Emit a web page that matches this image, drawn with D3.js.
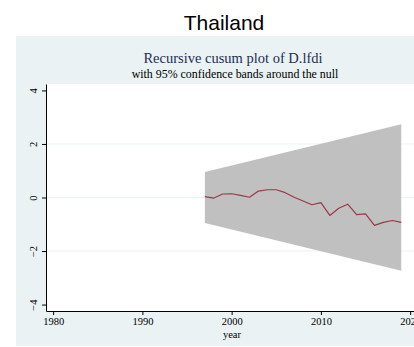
<!DOCTYPE html>
<html>
<head>
<meta charset="utf-8">
<script src="https://cdn.jsdelivr.net/npm/d3@7"></script>
<style>
  html, body { margin: 0; padding: 0; background: #ffffff; }
  svg { display: block; }
</style>
</head>
<body>
<svg id="chart" width="414" height="347"></svg>
<script>
// ---- data ----
const years = [1997, 1998, 1999, 2000, 2001, 2002, 2003, 2004, 2005, 2006, 2007, 2008,
               2009, 2010, 2011, 2012, 2013, 2014, 2015, 2016, 2017, 2018, 2019];
const cusum = [0.03, -0.02, 0.13, 0.14, 0.08, 0.01, 0.24, 0.29, 0.29, 0.18, 0.01, -0.13,
               -0.27, -0.19, -0.67, -0.40, -0.25, -0.64, -0.61, -1.04, -0.93, -0.86, -0.93];
const bandYears = [1997, 2019];
const bandUpper = [0.95, 2.74];
const bandLower = [-0.95, -2.74];
const xTicks = [1980, 1990, 2000, 2010, 2020];
const yTicks = [-4, -2, 0, 2, 4];
const gridTicks = [-2, 0, 2];

const pageTitle = "Thailand";
const chartTitle = "Recursive cusum plot of D.lfdi";
const chartSubtitle = "with 95% confidence bands around the null";
const xLabel = "year";

// ---- layout ----
const svg = d3.select("#chart");
const serif = "'Liberation Serif', 'Times New Roman', serif";

const plot = { left: 46, top: 84, bottom: 311, right: 424 };

const x = d3.scaleLinear().domain([1979.2, 2021.55]).range([plot.left, plot.right]);
const y = d3.scaleLinear().domain([-4.24, 4.24]).range([plot.bottom, plot.top]);

// outer graph region background
svg.append("rect")
  .attr("x", 16).attr("y", 36).attr("width", 420).attr("height", 310)
  .attr("fill", "#eaf2f3");

// plot region
svg.append("rect")
  .attr("x", plot.left).attr("y", plot.top)
  .attr("width", plot.right - plot.left).attr("height", plot.bottom - plot.top)
  .attr("fill", "#ffffff");

// gridlines
svg.append("g").selectAll("line").data(gridTicks).join("line")
  .attr("x1", plot.left).attr("x2", plot.right)
  .attr("y1", d => y(d)).attr("y2", d => y(d))
  .attr("stroke", "#eaf2f3").attr("stroke-width", 1);

// confidence band
const bandData = bandYears.map((yr, i) => ({ yr, lo: bandLower[i], hi: bandUpper[i] }));
svg.append("path")
  .datum(bandData)
  .attr("fill", "#c0c0c0")
  .attr("d", d3.area().x(d => x(d.yr)).y0(d => y(d.lo)).y1(d => y(d.hi)));

// cusum line
svg.append("path")
  .datum(years.map((yr, i) => [yr, cusum[i]]))
  .attr("fill", "none")
  .attr("stroke", "#983a45")
  .attr("stroke-width", 1.2)
  .attr("stroke-linejoin", "round")
  .attr("d", d3.line().x(d => x(d[0])).y(d => y(d[1])));

// x axis
const xAxis = svg.append("g")
  .attr("transform", `translate(0,${plot.bottom})`)
  .call(d3.axisBottom(x).tickValues(xTicks).tickFormat(d3.format("d")).tickSize(4).tickSizeOuter(0).tickPadding(3));
xAxis.select(".domain").attr("stroke", "#000").attr("stroke-width", 1);
xAxis.selectAll(".tick line").attr("stroke", "#000");
xAxis.selectAll(".tick text").attr("font-family", serif).attr("font-size", "10.5px").attr("fill", "#000");

// y axis
const yAxis = svg.append("g")
  .attr("transform", `translate(${plot.left},0)`)
  .call(d3.axisLeft(y).tickValues(yTicks).tickFormat(d3.format("d")).tickSize(4).tickSizeOuter(0).tickPadding(0));
yAxis.select(".domain").attr("stroke", "#000").attr("stroke-width", 1);
yAxis.selectAll(".tick line").attr("stroke", "#000");
yAxis.selectAll(".tick text")
  .attr("font-family", serif).attr("font-size", "10.5px").attr("fill", "#000")
  .attr("x", null).attr("dy", null)
  .attr("text-anchor", "middle")
  .attr("transform", "translate(-9,0) rotate(-90)");

// x label
svg.append("text")
  .attr("x", 232).attr("y", 337.5)
  .attr("text-anchor", "middle")
  .attr("font-family", serif).attr("font-size", "10.5px").attr("fill", "#000")
  .text(xLabel);

// titles
svg.append("text")
  .attr("x", 224).attr("y", 30)
  .attr("text-anchor", "middle")
  .attr("font-family", "'Liberation Sans', Arial, sans-serif").attr("font-size", "21px").attr("fill", "#000")
  .text(pageTitle);

svg.append("text")
  .attr("x", 233).attr("y", 63.3)
  .attr("text-anchor", "middle")
  .attr("font-family", serif).attr("font-size", "14.5px").attr("fill", "#1e2d53")
  .text(chartTitle);

svg.append("text")
  .attr("x", 235).attr("y", 77.7)
  .attr("text-anchor", "middle")
  .attr("font-family", serif).attr("font-size", "11.9px").attr("fill", "#000")
  .text(chartSubtitle);
</script>
</body>
</html>
